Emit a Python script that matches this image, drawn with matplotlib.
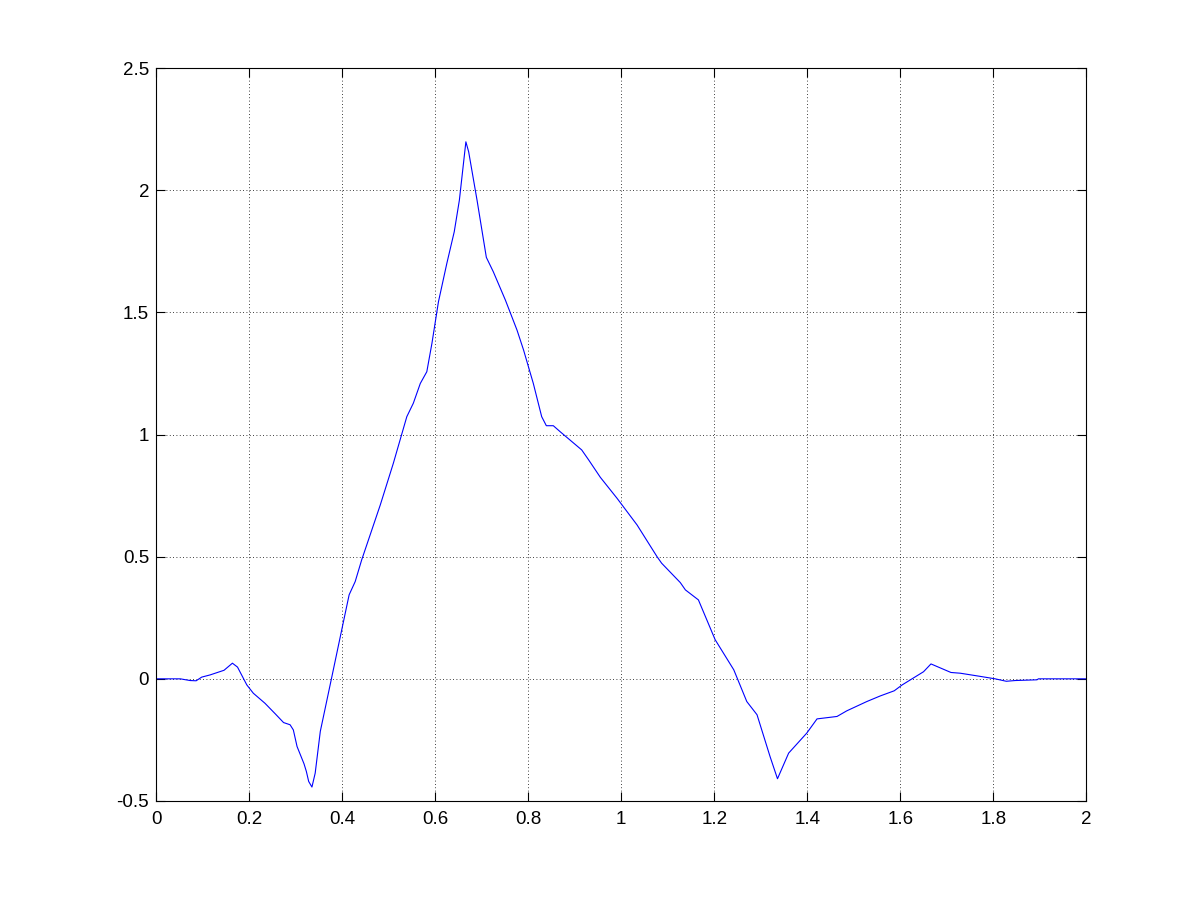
import numpy as np
import matplotlib
matplotlib.use('Agg')
import matplotlib.pyplot as plt

# Valores (t, senal)
t = [0.0, 0.052, 0.073, 0.086, 0.098, 0.116, 0.146, 0.164, 0.175, 0.195,
     0.209, 0.234, 0.256, 0.274, 0.288, 0.295, 0.303, 0.318, 0.323, 0.328,
     0.335, 0.342, 0.353, 0.378, 0.399, 0.415, 0.428, 0.442, 0.482, 0.510,
     0.539, 0.553, 0.568, 0.582, 0.593, 0.607, 0.625, 0.641, 0.652, 0.666,
     0.672, 0.690, 0.710, 0.725, 0.751, 0.776, 0.790, 0.811, 0.829, 0.839,
     0.854, 0.869, 0.915, 0.930, 0.955, 0.991, 1.034, 1.077, 1.087, 1.127,
     1.138, 1.166, 1.202, 1.242, 1.270, 1.292, 1.320, 1.336, 1.360, 1.399,
     1.421, 1.464, 1.485, 1.528, 1.557, 1.587, 1.604, 1.650, 1.666, 1.709,
     1.729, 1.772, 1.804, 1.828, 1.847, 1.894, 1.897, 2.0]
senal = [0.0, 0.0, -0.007, -0.008, 0.007, 0.016, 0.035, 0.064, 0.048, -0.025,
         -0.059, -0.100, -0.143, -0.179, -0.188, -0.209, -0.277, -0.348, -0.379, -0.420,
         -0.443, -0.386, -0.215, 0.010, 0.200, 0.344, 0.398, 0.487, 0.712, 0.882,
         1.073, 1.128, 1.209, 1.257, 1.373, 1.543, 1.700, 1.830, 1.959, 2.198,
         2.157, 1.959, 1.725, 1.666, 1.550, 1.427, 1.346, 1.209, 1.073, 1.036,
         1.036, 1.011, 0.937, 0.896, 0.825, 0.739, 0.630, 0.500, 0.473, 0.394,
         0.364, 0.323, 0.160, 0.037, -0.093, -0.147, -0.318, -0.409, -0.304, -0.222,
         -0.164, -0.154, -0.131, -0.093, -0.070, -0.049, -0.025, 0.029, 0.061, 0.026,
         0.023, 0.010, 0.0, -0.010, -0.007, -0.004, 0.0, 0.0]

xticks = [0, 0.2, 0.4, 0.6, 0.8, 1, 1.2, 1.4, 1.6, 1.8, 2]
xticklabels = ['0', '0.2', '0.4', '0.6', '0.8', '1', '1.2', '1.4', '1.6', '1.8', '2']
yticks = [-0.5, 0, 0.5, 1, 1.5, 2, 2.5]
yticklabels = ['-0.5', '0', '0.5', '1', '1.5', '2', '2.5']

plt.rcParams['font.family'] = ['Liberation Sans', 'DejaVu Sans']

fig = plt.figure(figsize=(12.01, 9.01), dpi=100)
ax = fig.add_axes([0.13, 0.111, 0.7745, 0.8135])

ax.plot(t, senal, color=(0, 0, 1), linewidth=0.8)

ax.set_xlim(0, 2)
ax.set_ylim(-0.5, 2.5)
ax.set_xticks(xticks)
ax.set_xticklabels(xticklabels)
ax.set_yticks(yticks)
ax.set_yticklabels(yticklabels)
ax.tick_params(direction='in', length=6.5, width=0.8, labelsize=13.5,
               top=True, right=True, colors='black')
ax.tick_params(axis='x', pad=7.5)
ax.tick_params(axis='y', pad=5)
ax.grid(True, color='black', linestyle=(0, (1, 3)), linewidth=0.6)
for s in ax.spines.values():
    s.set_linewidth(0.8)

fig.savefig('out.png', dpi=100, facecolor='white')
